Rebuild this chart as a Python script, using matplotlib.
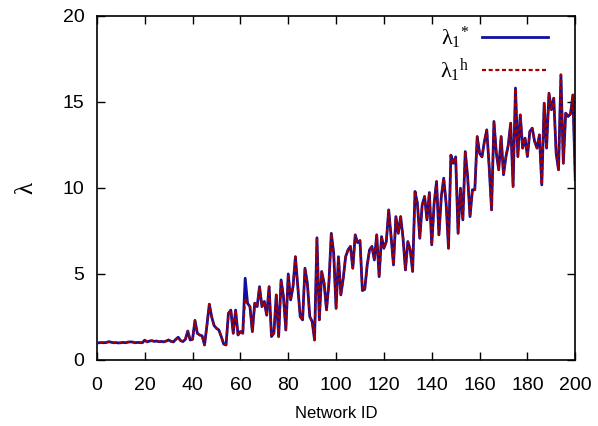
import numpy as np
import matplotlib.pyplot as plt

plt.rcParams['font.family'] = ['Liberation Sans', 'DejaVu Sans']
plt.rcParams['mathtext.fontset'] = 'custom'
plt.rcParams['mathtext.rm'] = 'Liberation Serif'
plt.rcParams['mathtext.it'] = 'Liberation Serif'

# network ids and the two leading eigenvalue estimates
network_id = np.arange(1, 201)

lam_star = [
    1.00, 1.01, 1.00, 1.02, 1.06, 1.03, 1.00, 1.01, 0.99, 1.00,
    1.02, 1.00, 1.04, 1.05, 1.04, 1.00, 1.02, 1.01, 1.00, 1.15,
    1.05, 1.10, 1.12, 1.08, 1.10, 1.06, 1.08, 1.05, 1.10, 1.16,
    1.08, 1.05, 1.20, 1.32, 1.12, 1.07, 1.20, 1.68, 1.16, 1.20,
    2.30, 1.55, 1.45, 1.40, 0.87, 2.00, 3.24, 2.50, 2.00, 1.84,
    1.74, 1.36, 0.93, 0.87, 2.71, 2.90, 1.55, 2.90, 1.45, 1.65,
    1.55, 4.75, 3.29, 3.10, 1.65, 3.30, 3.10, 4.26, 3.10, 3.40,
    2.60, 4.26, 1.36, 1.55, 3.78, 1.36, 4.65, 3.68, 1.74, 5.00,
    3.49, 4.26, 6.00, 4.26, 2.52, 2.33, 5.33, 4.46, 2.52, 2.23,
    1.16, 7.10, 2.33, 5.14, 4.46, 2.91, 4.46, 7.36, 6.20, 3.00,
    6.00, 3.78, 4.75, 6.00, 6.40, 6.60, 5.33, 7.27, 6.82, 6.94,
    4.03, 4.11, 5.50, 6.40, 6.60, 5.81, 7.27, 4.84, 7.17, 6.49,
    6.88, 8.72, 7.17, 5.52, 8.33, 7.36, 8.33, 7.07, 5.23, 6.88,
    6.40, 5.14, 9.79, 9.11, 7.07, 9.01, 9.50, 8.14, 9.73, 6.69,
    9.11, 10.37, 7.27, 9.50, 10.56, 9.11, 6.49, 11.90, 11.43, 11.80,
    7.36, 9.98, 8.14, 12.11, 10.66, 8.33, 9.89, 9.89, 12.98, 12.00,
    11.80, 12.69, 13.37, 11.24, 8.72, 13.86, 12.00, 11.05, 12.98, 10.76,
    11.80, 12.50, 13.76, 10.08, 15.80, 11.82, 14.24, 12.31, 12.89, 11.82,
    13.28, 13.47, 12.70, 12.31, 13.08, 10.17, 14.92, 12.31, 15.50, 14.54,
    15.21, 12.02, 11.05, 16.57, 11.43, 14.34, 14.15, 14.30, 15.40, 10.47,
]

lam_h = [
    1.00, 1.01, 1.00, 1.02, 1.06, 1.03, 1.00, 1.01, 0.99, 1.00,
    1.02, 1.00, 1.04, 1.05, 1.04, 1.00, 1.02, 1.01, 1.00, 1.15,
    1.05, 1.10, 1.12, 1.08, 1.10, 1.06, 1.08, 1.05, 1.10, 1.16,
    1.08, 1.05, 1.20, 1.32, 1.12, 1.07, 1.20, 1.68, 1.16, 1.20,
    2.30, 1.55, 1.45, 1.40, 0.87, 2.00, 3.24, 2.50, 2.00, 1.84,
    1.74, 1.36, 0.93, 0.87, 2.71, 2.90, 1.55, 2.90, 1.45, 1.65,
    1.55, 3.60, 3.29, 3.10, 1.65, 3.30, 3.10, 4.26, 3.10, 3.40,
    2.60, 4.26, 1.36, 1.55, 3.78, 1.36, 4.65, 3.68, 1.74, 5.00,
    3.49, 4.26, 6.00, 4.26, 2.52, 2.33, 5.33, 4.46, 2.52, 2.23,
    1.16, 7.10, 2.33, 5.14, 4.46, 2.91, 4.46, 7.36, 6.20, 3.00,
    6.00, 3.78, 4.75, 6.00, 6.40, 6.60, 5.33, 7.27, 6.82, 6.94,
    4.03, 4.11, 5.50, 6.40, 6.60, 5.81, 7.27, 4.84, 7.17, 6.49,
    6.88, 8.72, 7.17, 5.52, 8.33, 7.36, 8.33, 7.07, 5.23, 6.88,
    6.40, 5.14, 9.79, 9.11, 7.07, 9.01, 9.50, 8.14, 9.73, 6.69,
    9.11, 10.37, 7.27, 9.50, 10.56, 9.11, 6.49, 11.90, 11.43, 11.80,
    7.36, 9.98, 8.14, 12.11, 10.66, 8.33, 9.89, 9.89, 12.98, 12.00,
    11.80, 12.69, 13.37, 11.24, 8.72, 13.86, 12.00, 11.05, 12.98, 10.76,
    11.80, 12.50, 13.76, 10.08, 15.80, 11.82, 14.24, 12.31, 12.89, 11.82,
    13.28, 13.47, 12.70, 12.31, 13.08, 10.17, 14.92, 12.31, 15.50, 14.54,
    15.21, 12.02, 11.05, 16.57, 11.43, 14.34, 14.15, 14.30, 15.40, 10.47,
]

x_ticks = [0, 20, 40, 60, 80, 100, 120, 140, 160, 180, 200]
y_ticks = [0, 5, 10, 15, 20]

fig = plt.figure(figsize=(5.98, 4.26), dpi=100)
ax = fig.add_axes([0.162, 0.155, 0.800, 0.808])

ax.plot(network_id, lam_star, color='#1010a0', lw=2.0,
        label=r'$\lambda_1{}^{*}$')
ax.plot(network_id, lam_h, color='#a00000', lw=1.6, dashes=(1.8, 1.2),
        label=r'$\lambda_1{}^{\rm h}$')

ax.set_xlim(0, 200)
ax.set_ylim(0, 20)
ax.set_xticks(x_ticks)
ax.set_yticks(y_ticks)
ax.tick_params(direction='in', length=6, width=1, labelsize=14,
               top=True, right=True)
ax.tick_params(axis='x', pad=12)
ax.tick_params(axis='y', pad=9)
for s in ax.spines.values():
    s.set_linewidth(1.2)

ax.set_xlabel('Network ID', fontsize=12, labelpad=9)
ax.set_ylabel(r'$\lambda$', fontsize=18, labelpad=18)

ax.legend(loc='upper right', bbox_to_anchor=(0.962, 1.0), frameon=False,
          markerfirst=False, fontsize=16, handlelength=3.0,
          handletextpad=0.55, borderaxespad=0.0, labelspacing=0.25)

fig.savefig('out.png', dpi=100)
